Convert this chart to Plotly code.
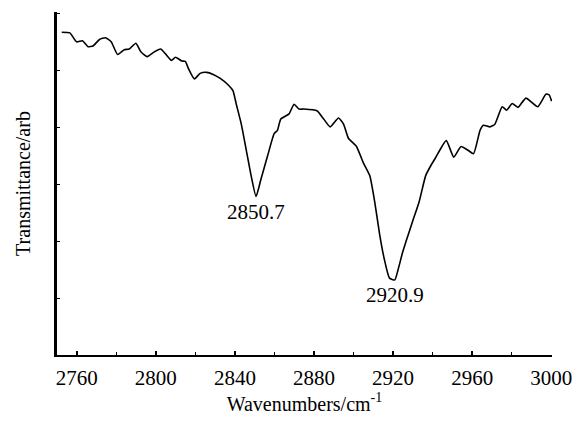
import plotly.graph_objects as go

# IR spectrum in the C-H stretching region (arbitrary transmittance units)
wavenumber = [
    2752.4, 2756.5, 2759.9, 2762.9, 2765.7, 2768.2, 2771.5, 2774.5, 2777.4, 2780.7,
    2784.0, 2786.5, 2789.9, 2792.4, 2795.7, 2799.0, 2802.4, 2804.9, 2807.9, 2809.9,
    2813.2, 2814.9, 2816.5, 2819.5, 2822.4, 2825.7, 2829.0, 2832.4, 2836.5, 2839.0,
    2840.7, 2843.2, 2845.7, 2848.2, 2850.7, 2853.2, 2856.5, 2859.9, 2861.5, 2863.2,
    2867.4, 2869.9, 2872.4, 2874.9, 2881.5, 2884.9, 2888.2, 2892.4, 2894.9, 2897.4,
    2901.5, 2904.9, 2908.2, 2910.7, 2913.2, 2915.7, 2918.2, 2920.9, 2922.5, 2924.9,
    2926.5, 2929.9, 2933.2, 2936.5, 2939.0, 2941.5, 2946.9, 2950.7, 2954.4, 2957.9,
    2960.7, 2964.0, 2965.7, 2969.0, 2971.5, 2975.2, 2977.4, 2980.3, 2983.2, 2987.2,
    2993.2, 2997.4, 2999.0, 3000.2,
]
transmittance = [
    94.1, 93.9, 91.3, 91.6, 89.9, 90.1, 92.0, 92.5, 91.3, 87.6,
    89.0, 89.2, 90.9, 88.4, 87.0, 88.3, 89.2, 87.8, 85.9, 86.8,
    85.7, 85.6, 83.5, 80.5, 82.1, 82.4, 81.8, 80.7, 78.8, 77.1,
    73.1, 67.4, 59.9, 52.3, 46.2, 51.3, 58.0, 64.6, 65.5, 68.8,
    70.3, 73.1, 71.7, 71.7, 71.2, 68.8, 66.5, 69.1, 67.4, 63.2,
    60.8, 56.1, 52.3, 44.7, 35.2, 27.6, 22.4, 21.9, 24.8, 30.1,
    33.0, 39.0, 44.7, 52.3, 55.1, 57.5, 62.5, 57.7, 60.8, 59.7,
    58.7, 65.5, 67.0, 66.5, 67.3, 72.4, 71.4, 73.3, 72.2, 74.9,
    72.4, 76.1, 75.8, 74.0,
]

# labelled absorption bands
peak_positions = [2850.7, 2920.9]
peak_values = [46.2, 21.9]
peak_labels = ["2850.7", "2920.9"]

x_ticks = [2760, 2800, 2840, 2880, 2920, 2960, 3000]

serif = "Liberation Serif, Times New Roman, serif"

fig = go.Figure()
fig.add_trace(go.Scatter(
    x=wavenumber, y=transmittance, mode="lines",
    line=dict(color="black", width=1.6, shape="spline", smoothing=0.5),
    showlegend=False, hoverinfo="skip",
))

for xp, yp, txt in zip(peak_positions, peak_values, peak_labels):
    fig.add_annotation(
        x=xp, y=yp, text=txt, showarrow=False,
        xanchor="center", yanchor="top", yshift=-1,
        font=dict(family=serif, size=21, color="black"),
    )

fig.update_layout(
    width=584, height=423,
    margin=dict(l=57, r=27, t=12, b=59),
    paper_bgcolor="white", plot_bgcolor="white",
    xaxis=dict(
        range=[2750, 3000.4],
        tickvals=x_ticks, ticktext=[str(v) for v in x_ticks],
        ticks="inside", ticklen=4, tickwidth=1.5, tickcolor="black",
        minor=dict(dtick=20, tick0=2760, ticks="inside", ticklen=3,
                   tickcolor="black", tickwidth=1.2),
        showline=True, linecolor="black", linewidth=2.2,
        showgrid=False, zeroline=False,
        ticklabelstandoff=3,
        tickfont=dict(family=serif, size=21, color="black"),
        title=dict(text="Wavenumbers/cm<sup>-1</sup>", standoff=7,
                   font=dict(family=serif, size=20, color="black")),
    ),
    yaxis=dict(
        range=[0, 100],
        tick0=0, dtick=16.6,
        ticks="inside", ticklen=3, tickwidth=1.2, tickcolor="black",
        showticklabels=False,
        showline=True, linecolor="black", linewidth=2.8,
        showgrid=False, zeroline=False,
        title=dict(text="Transmittance/arb", standoff=19,
                   font=dict(family=serif, size=20, color="black")),
    ),
)

fig.write_html("out.html")
